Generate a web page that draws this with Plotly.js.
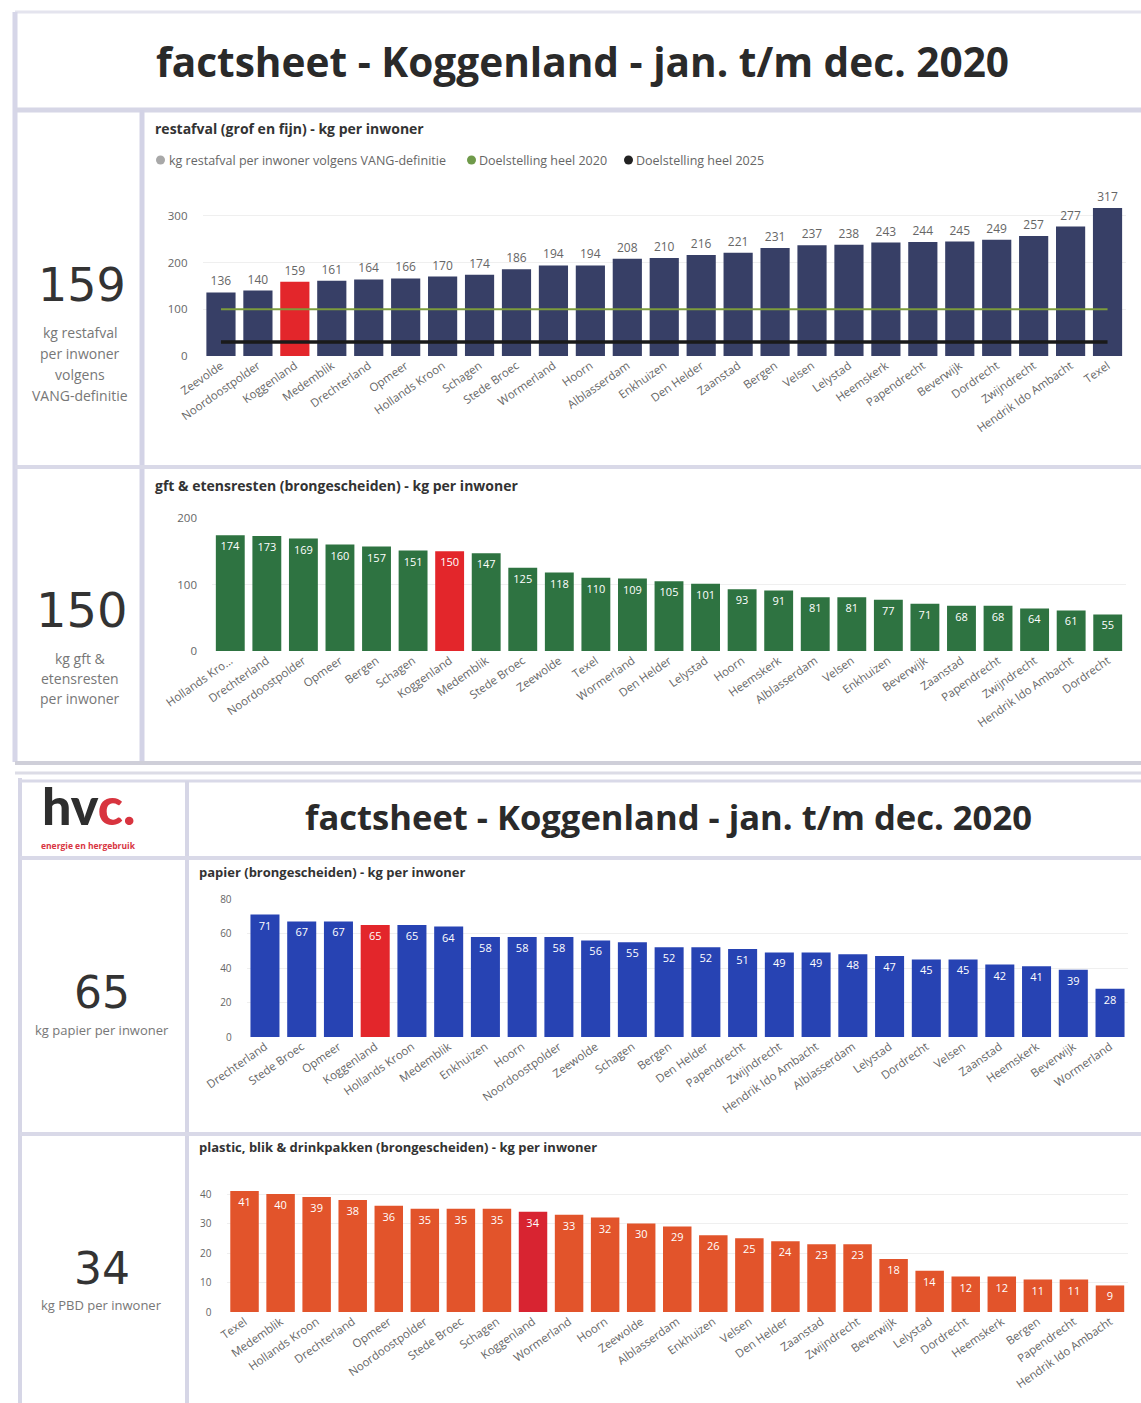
<!DOCTYPE html>
<html><head><meta charset="utf-8">
<script src="https://cdn.plot.ly/plotly-3.0.1.min.js"></script>
<style>html,body{margin:0;padding:0;background:#fff;overflow:hidden}#chart{width:1141px;height:1403px}</style>
</head><body><div id="chart"></div>
<script>
// ---------- data ----------
const gemeente = 'Koggenland';
const restCats = ['Zeevolde','Noordoostpolder','Koggenland','Medemblik','Drechterland','Opmeer','Hollands Kroon','Schagen','Stede Broec','Wormerland','Hoorn','Alblasserdam','Enkhuizen','Den Helder','Zaanstad','Bergen','Velsen','Lelystad','Heemskerk','Papendrecht','Beverwijk','Dordrecht','Zwijndrecht','Hendrik Ido Ambacht','Texel'];
const restVals = [136,140,159,161,164,166,170,174,186,194,194,208,210,216,221,231,237,238,243,244,245,249,257,277,317];
const doel2020 = 100;
const doel2025 = 30;
const legendLabels = ['kg restafval per inwoner volgens VANG-definitie', 'Doelstelling heel 2020', 'Doelstelling heel 2025'];
const gftCats = ['Hollands Kroon','Drechterland','Noordoostpolder','Opmeer','Bergen','Schagen','Koggenland','Medemblik','Stede Broec','Zeewolde','Texel','Wormerland','Den Helder','Lelystad','Hoorn','Heemskerk','Alblasserdam','Velsen','Enkhuizen','Beverwijk','Zaanstad','Papendrecht','Zwijndrecht','Hendrik Ido Ambacht','Dordrecht'];
const gftTickText = ['Hollands Kro...','Drechterland','Noordoostpolder','Opmeer','Bergen','Schagen','Koggenland','Medemblik','Stede Broec','Zeewolde','Texel','Wormerland','Den Helder','Lelystad','Hoorn','Heemskerk','Alblasserdam','Velsen','Enkhuizen','Beverwijk','Zaanstad','Papendrecht','Zwijndrecht','Hendrik Ido Ambacht','Dordrecht'];
const gftVals = [174,173,169,160,157,151,150,147,125,118,110,109,105,101,93,91,81,81,77,71,68,68,64,61,55];
const papCats = ['Drechterland','Stede Broec','Opmeer','Koggenland','Hollands Kroon','Medemblik','Enkhuizen','Hoorn','Noordoostpolder','Zeewolde','Schagen','Bergen','Den Helder','Papendrecht','Zwijndrecht','Hendrik Ido Ambacht','Alblasserdam','Lelystad','Dordrecht','Velsen','Zaanstad','Heemskerk','Beverwijk','Wormerland'];
const papVals = [71,67,67,65,65,64,58,58,58,56,55,52,52,51,49,49,48,47,45,45,42,41,39,28];
const pbdCats = ['Texel','Medemblik','Hollands Kroon','Drechterland','Opmeer','Noordoostpolder','Stede Broec','Schagen','Koggenland','Wormerland','Hoorn','Zeewolde','Alblasserdam','Enkhuizen','Velsen','Den Helder','Zaanstad','Zwijndrecht','Beverwijk','Lelystad','Dordrecht','Heemskerk','Bergen','Papendrecht','Hendrik Ido Ambacht'];
const pbdVals = [41,40,39,38,36,35,35,35,34,33,32,30,29,26,25,24,23,23,18,14,12,12,11,11,9];
const kpiRest = 159, kpiGft = 150, kpiPap = 65, kpiPbd = 34;
const titleText = 'factsheet - Koggenland - jan. t/m dec. 2020';

// ---------- helpers ----------
const W = 1141, H = 1403;
const px = x => x / W;
const py = y => 1 - y / H;
const FONT = 'Segoe UI, Open Sans, sans-serif';
const colorsFor = (cats, base, hi) => cats.map(c => c === gemeente ? hi : base);

function A(text, x, y, o) {
  o = o || {};
  return Object.assign({
    text: text, xref: 'paper', yref: 'paper', x: px(x), y: py(y),
    showarrow: false, xanchor: 'center', yanchor: 'middle',
    font: {family: FONT, size: 13, color: '#777'}
  }, o);
}
function L(x0, y0, x1, y1, color, width) {
  return {type: 'line', xref: 'paper', yref: 'paper', x0: px(x0), y0: py(y0), x1: px(x1), y1: py(y1),
          line: {color: color || '#d8d8e8', width: width || 4}, layer: 'below'};
}
function Dot(cx, cy, r, color) {
  return {type: 'circle', xref: 'paper', yref: 'paper', x0: px(cx - r), x1: px(cx + r), y0: py(cy + r), y1: py(cy - r),
          fillcolor: color, line: {width: 0}};
}

const tickF = {family: FONT, size: 11.5, color: '#666'};
const insideText = {family: FONT, size: 11, color: '#ffffff'};

const traces = [
  {type: 'bar', x: restCats, y: restVals, xaxis: 'x', yaxis: 'y',
   marker: {color: colorsFor(restCats, '#373f66', '#e3262b')},
   text: restVals.map(String), textposition: 'outside', cliponaxis: false,
   textfont: {family: FONT, size: 12, color: '#666'}, hoverinfo: 'x+y'},
  {type: 'scatter', mode: 'lines', x: restCats, y: restCats.map(() => doel2020), xaxis: 'x', yaxis: 'y',
   line: {color: '#7d9c3c', width: 2}},
  {type: 'scatter', mode: 'lines', x: restCats, y: restCats.map(() => doel2025), xaxis: 'x', yaxis: 'y',
   line: {color: '#1a1a1a', width: 3.5}},
  {type: 'bar', x: gftCats, y: gftVals, xaxis: 'x2', yaxis: 'y2',
   marker: {color: colorsFor(gftCats, '#2e7341', '#e3262b')},
   text: gftVals.map(String), textposition: 'inside', insidetextanchor: 'end', textangle: 0,
   textfont: insideText, constraintext: 'none'},
  {type: 'bar', x: papCats, y: papVals, xaxis: 'x3', yaxis: 'y3',
   marker: {color: colorsFor(papCats, '#2743b3', '#e3262b')},
   text: papVals.map(String), textposition: 'inside', insidetextanchor: 'end', textangle: 0,
   textfont: insideText, constraintext: 'none'},
  {type: 'bar', x: pbdCats, y: pbdVals, xaxis: 'x4', yaxis: 'y4',
   marker: {color: colorsFor(pbdCats, '#e2542b', '#d82431')},
   text: pbdVals.map(String), textposition: 'inside', insidetextanchor: 'end', textangle: 0,
   textfont: insideText, constraintext: 'none'}
];

const xBase = {type: 'category', tickangle: -35, tickfont: tickF, showgrid: false, zeroline: false, showline: false, ticks: '', fixedrange: true};
const yBase = {tickfont: tickF, gridcolor: '#efefef', zeroline: false, showline: false, ticks: '', ticklabelstandoff: 14, fixedrange: true};

const layout = {
  width: W, height: H, margin: {l: 0, r: 0, t: 0, b: 0},
  paper_bgcolor: '#ffffff', plot_bgcolor: '#ffffff', showlegend: false, bargap: 0.21,
  font: {family: FONT},
  xaxis: Object.assign({}, xBase, {domain: [px(202.5), px(1126)], anchor: 'y'}),
  yaxis: Object.assign({}, yBase, {domain: [py(356), py(200)], range: [0, 334], tickvals: [0, 100, 200, 300], anchor: 'x'}),
  xaxis2: Object.assign({}, xBase, {domain: [px(212), px(1126)], anchor: 'y2', tickmode: 'array', tickvals: gftCats, ticktext: gftTickText}),
  yaxis2: Object.assign({}, yBase, {domain: [py(651), py(518)], range: [0, 200], tickvals: [0, 100, 200], anchor: 'x2'}),
  xaxis3: Object.assign({}, xBase, {domain: [px(246.6), px(1128.4)], anchor: 'y3'}),
  yaxis3: Object.assign({}, yBase, {domain: [py(1037), py(899)], range: [0, 80], tickvals: [0, 20, 40, 60, 80], anchor: 'x3', tickfont: {family: FONT, size: 10, color: '#666'}}),
  xaxis4: Object.assign({}, xBase, {domain: [px(226.5), px(1128)], anchor: 'y4'}),
  yaxis4: Object.assign({}, yBase, {domain: [py(1312), py(1188.1)], range: [0, 42], tickvals: [0, 10, 20, 30, 40], anchor: 'x4', tickfont: {family: FONT, size: 10, color: '#666'}}),
  shapes: [
    // top section frame
    L(15, 12, 1141, 12, '#e4e4ee', 3),
    L(15, 12, 15, 762, '#d6d6e8', 5),
    L(15, 110, 1141, 110, '#d6d6e6', 5),
    L(142, 110, 142, 762, '#d3d3e6', 5),
    L(15, 467, 1141, 467, '#d9d9e8', 4),
    L(15, 763, 1141, 763, '#cfcfd9', 4),
    L(15, 773, 1141, 773, '#dcdce6', 3),
    // bottom section frame
    L(20, 778, 20, 1403, '#d6d6e6', 4),
    L(20, 781, 1141, 781, '#d9d9e8', 3),
    L(187, 781, 187, 1403, '#d6d6e6', 4),
    L(20, 858, 1141, 858, '#d9d9e8', 4),
    L(20, 1134, 1141, 1134, '#d9d9e8', 4),
    // legend dots
    Dot(160.5, 160, 4.5, '#a8a8a8'),
    Dot(471.5, 160, 4.5, '#6f9a4a'),
    Dot(628.5, 160, 4.5, '#222222')
  ],
  annotations: [
    A('<b>' + titleText + '</b>', 582, 62, {font: {family: FONT, size: 40.6, color: '#2a2a2a'}}),
    A('<b>restafval (grof en fijn) - kg per inwoner</b>', 153, 128, {xanchor: 'left', font: {family: FONT, size: 14, color: '#333'}}),
    A(legendLabels[0], 167, 160, {xanchor: 'left', font: {family: FONT, size: 12.5, color: '#666'}}),
    A(legendLabels[1], 477, 160, {xanchor: 'left', font: {family: FONT, size: 12.5, color: '#666'}}),
    A(legendLabels[2], 634, 160, {xanchor: 'left', font: {family: FONT, size: 12.5, color: '#666'}}),
    A(String(kpiRest), 82, 285, {font: {family: 'DejaVu Sans, sans-serif', size: 46, color: '#333'}}),
    A('kg restafval', 80, 332, {font: {family: FONT, size: 14, color: '#777'}}),
    A('per inwoner', 80, 353, {font: {family: FONT, size: 14, color: '#777'}}),
    A('volgens', 80, 374, {font: {family: FONT, size: 14, color: '#777'}}),
    A('VANG-definitie', 80, 395, {font: {family: FONT, size: 14, color: '#777'}}),
    A('<b>gft &amp; etensresten (brongescheiden) - kg per inwoner</b>', 153, 486, {xanchor: 'left', font: {family: FONT, size: 14, color: '#333'}}),
    A(String(kpiGft), 82, 610, {font: {family: 'DejaVu Sans, sans-serif', size: 48, color: '#333'}}),
    A('kg gft &amp;', 80, 658, {font: {family: FONT, size: 14, color: '#777'}}),
    A('etensresten', 80, 678, {font: {family: FONT, size: 14, color: '#777'}}),
    A('per inwoner', 80, 698, {font: {family: FONT, size: 14, color: '#777'}}),
    // bottom section
    A('<span style="color:#2e2e2e">hv</span><span style="color:#d8343f">c.</span>', 88, 805, {font: {family: 'Lato, sans-serif', size: 52, weight: 900, color: '#2e2e2e'}}),
    A('<b>energie en hergebruik</b>', 88, 846, {font: {family: FONT, size: 8.5, color: '#d8343f'}}),
    A('<b>' + titleText + '</b>', 668, 816, {font: {family: FONT, size: 34.6, color: '#2a2a2a'}}),
    A('<b>papier (brongescheiden) - kg per inwoner</b>', 197, 872, {xanchor: 'left', font: {family: FONT, size: 13, color: '#333'}}),
    A(String(kpiPap), 102, 992, {font: {family: 'DejaVu Sans, sans-serif', size: 44, color: '#333'}}),
    A('kg papier per inwoner', 102, 1030, {font: {family: FONT, size: 13, color: '#777'}}),
    A('<b>plastic, blik &amp; drinkpakken (brongescheiden) - kg per inwoner</b>', 197, 1147, {xanchor: 'left', font: {family: FONT, size: 13, color: '#333'}}),
    A(String(kpiPbd), 102, 1268, {font: {family: 'DejaVu Sans, sans-serif', size: 44, color: '#333'}}),
    A('kg PBD per inwoner', 102, 1305, {font: {family: FONT, size: 13, color: '#777'}})
  ]
};

Plotly.newPlot('chart', traces, layout, {staticPlot: true, displayModeBar: false});
</script>
</body></html>
